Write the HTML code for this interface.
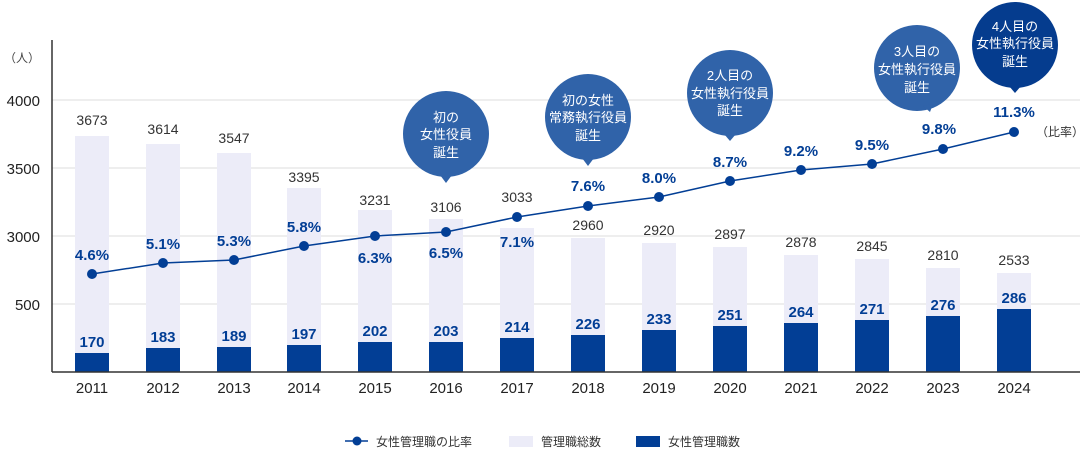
<!DOCTYPE html>
<html><head><meta charset="utf-8"><style>
html,body{margin:0;padding:0;background:#fff;}
svg{display:block;font-family:"Liberation Sans","Noto Sans CJK JP",sans-serif;}
</style></head><body>
<svg width="1080" height="450" viewBox="0 0 1080 450" xmlns="http://www.w3.org/2000/svg">
<g stroke="#dcdcdc" stroke-width="1">
<line x1="52" y1="100" x2="1080" y2="100"/><line x1="52" y1="168" x2="1080" y2="168"/>
<line x1="52" y1="236" x2="1080" y2="236"/><line x1="52" y1="304" x2="1080" y2="304"/>
</g>
<g font-size="15" fill="#222" text-anchor="end">
<text x="40" y="62" font-size="12" fill="#444">（人）</text>
<text x="40" y="106">4000</text><text x="40" y="174">3500</text><text x="40" y="242">3000</text><text x="40" y="310">500</text>
</g>
<g fill="#ececf8">
<rect x="75" y="136" width="34" height="236"/><rect x="146" y="144" width="34" height="228"/>
<rect x="217" y="153" width="34" height="219"/><rect x="287" y="188" width="34" height="184"/>
<rect x="358" y="210" width="34" height="162"/><rect x="429" y="219" width="34" height="153"/>
<rect x="500" y="228" width="34" height="144"/><rect x="571" y="238" width="34" height="134"/>
<rect x="642" y="243" width="34" height="129"/><rect x="713" y="247" width="34" height="125"/>
<rect x="784" y="255" width="34" height="117"/><rect x="855" y="259" width="34" height="113"/>
<rect x="926" y="268" width="34" height="104"/><rect x="997" y="273" width="34" height="99"/>
</g>
<g fill="#023e95">
<rect x="75" y="353" width="34" height="19"/><rect x="146" y="348" width="34" height="24"/>
<rect x="217" y="347" width="34" height="25"/><rect x="287" y="345" width="34" height="27"/>
<rect x="358" y="342" width="34" height="30"/><rect x="429" y="342" width="34" height="30"/>
<rect x="500" y="338" width="34" height="34"/><rect x="571" y="335" width="34" height="37"/>
<rect x="642" y="330" width="34" height="42"/><rect x="713" y="326" width="34" height="46"/>
<rect x="784" y="323" width="34" height="49"/><rect x="855" y="320" width="34" height="52"/>
<rect x="926" y="316" width="34" height="56"/><rect x="997" y="309" width="34" height="63"/>
</g>
<line x1="52" y1="40" x2="52" y2="372" stroke="#333" stroke-width="1.5"/>
<line x1="52" y1="372" x2="1080" y2="372" stroke="#333" stroke-width="1.5"/>
<g font-size="14" fill="#333" text-anchor="middle">
<text x="92" y="125">3673</text><text x="163" y="134">3614</text><text x="234" y="143">3547</text>
<text x="304" y="182">3395</text><text x="375" y="205">3231</text><text x="446" y="212">3106</text>
<text x="517" y="202">3033</text><text x="588" y="230">2960</text><text x="659" y="235">2920</text>
<text x="730" y="239">2897</text><text x="801" y="247">2878</text><text x="872" y="251">2845</text>
<text x="943" y="260">2810</text><text x="1014" y="265">2533</text>
</g>
<g font-size="15" font-weight="bold" fill="#023e95" text-anchor="middle">
<text x="92" y="347">170</text><text x="163" y="342">183</text><text x="234" y="341">189</text>
<text x="304" y="339">197</text><text x="375" y="336">202</text><text x="446" y="336">203</text>
<text x="517" y="332">214</text><text x="588" y="329">226</text><text x="659" y="324">233</text>
<text x="730" y="320">251</text><text x="801" y="317">264</text><text x="872" y="314">271</text>
<text x="943" y="310">276</text><text x="1014" y="303">286</text>
</g>
<polyline fill="none" stroke="#023e95" stroke-width="1.5" points="92,274 163,263 234,260 304,246 375,236 446,232 517,217 588,206 659,197 730,181 801,170 872,164 943,149 1014,132"/>
<g fill="#023e95">
<circle cx="92" cy="274" r="5"/><circle cx="163" cy="263" r="5"/><circle cx="234" cy="260" r="5"/>
<circle cx="304" cy="246" r="5"/><circle cx="375" cy="236" r="5"/><circle cx="446" cy="232" r="5"/>
<circle cx="517" cy="217" r="5"/><circle cx="588" cy="206" r="5"/><circle cx="659" cy="197" r="5"/>
<circle cx="730" cy="181" r="5"/><circle cx="801" cy="170" r="5"/><circle cx="872" cy="164" r="5"/>
<circle cx="943" cy="149" r="5"/><circle cx="1014" cy="132" r="5"/>
</g>
<g font-size="15" font-weight="bold" fill="#023e95" text-anchor="middle">
<text x="92" y="260">4.6%</text><text x="163" y="249">5.1%</text><text x="234" y="246">5.3%</text>
<text x="304" y="232">5.8%</text><text x="375" y="263">6.3%</text><text x="446" y="258">6.5%</text>
<text x="517" y="247">7.1%</text><text x="588" y="191">7.6%</text><text x="659" y="183">8.0%</text>
<text x="730" y="167">8.7%</text><text x="801" y="156">9.2%</text><text x="872" y="150">9.5%</text>
<text x="939" y="134">9.8%</text><text x="1014" y="117">11.3%</text>
</g>
<text x="1036" y="136" font-size="12" fill="#333">（比率）</text>
<g font-size="15" fill="#222" text-anchor="middle">
<text x="92" y="393">2011</text><text x="163" y="393">2012</text><text x="234" y="393">2013</text>
<text x="304" y="393">2014</text><text x="375" y="393">2015</text><text x="446" y="393">2016</text>
<text x="517" y="393">2017</text><text x="588" y="393">2018</text><text x="659" y="393">2019</text>
<text x="730" y="393">2020</text><text x="801" y="393">2021</text><text x="872" y="393">2022</text>
<text x="943" y="393">2023</text><text x="1014" y="393">2024</text>
</g>
<g fill="#3063a9">
<circle cx="446" cy="134" r="43"/><path d="M440 175 L446 183 L452 175Z"/>
<circle cx="588" cy="117" r="43"/><path d="M582 158 L588 166 L594 158Z"/>
<circle cx="730" cy="93" r="43"/><path d="M724 134 L730 141 L736 134Z"/>
<circle cx="917" cy="68" r="43"/><path d="M923 106 L930 112 L933 104Z"/>
</g>
<g fill="#053c8e"><circle cx="1015" cy="45" r="43"/><path d="M1009 86 L1015 93 L1021 86Z"/></g>
<g font-size="13" fill="#fff" text-anchor="middle">
<text x="446" y="122">初の</text><text x="446" y="139">女性役員</text><text x="446" y="157">誕生</text>
<text x="588" y="105">初の女性</text><text x="588" y="122">常務執行役員</text><text x="588" y="140">誕生</text>
<text x="730" y="80">2人目の</text><text x="730" y="98">女性執行役員</text><text x="730" y="115">誕生</text>
<text x="917" y="56">3人目の</text><text x="917" y="74">女性執行役員</text><text x="917" y="92">誕生</text>
<text x="1015" y="31">4人目の</text><text x="1015" y="48">女性執行役員</text><text x="1015" y="66">誕生</text>
</g>
<line x1="345" y1="441" x2="368" y2="441" stroke="#023e95" stroke-width="1.5"/>
<circle cx="357" cy="441" r="4.5" fill="#023e95"/>
<text x="376" y="446" font-size="12" fill="#333">女性管理職の比率</text>
<rect x="509" y="436" width="24" height="11" fill="#ececf8"/>
<text x="541" y="446" font-size="12" fill="#333">管理職総数</text>
<rect x="636" y="436" width="24" height="11" fill="#023e95"/>
<text x="668" y="446" font-size="12" fill="#333">女性管理職数</text>
</svg>
</body></html>
